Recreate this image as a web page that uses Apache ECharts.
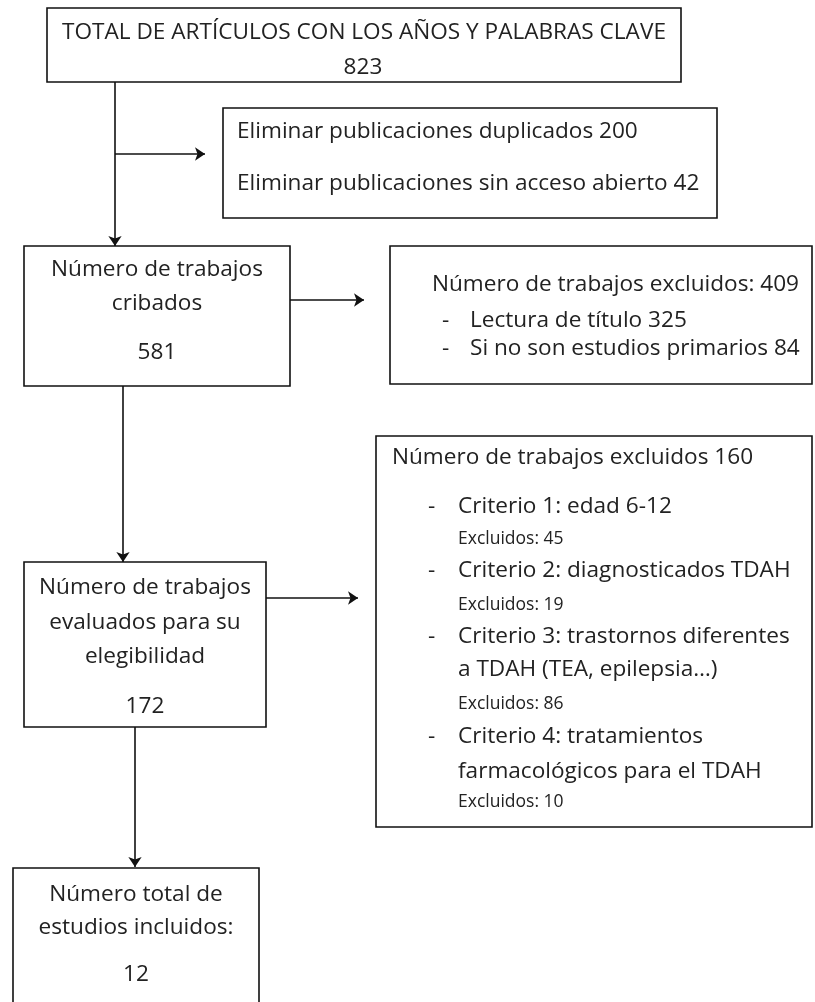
<!DOCTYPE html>
<html>
<head>
<meta charset="utf-8">
<script src="https://cdn.jsdelivr.net/npm/echarts@6/dist/echarts.min.js"></script>
<style>
  html, body { margin: 0; background: #fff; }
  #chart { width: 815px; height: 1002px; }
</style>
</head>
<body>
<div id="chart"></div>
<script>
// --- flow values ---
const totalArticles = 823
const removedLabels = ['Eliminar publicaciones duplicados', 'Eliminar publicaciones sin acceso abierto']
const removedCounts = [200, 42]
const screened = 581
const screenExcluded = 409
const screenReasons = ['Lectura de título', 'Si no son estudios primarios']
const screenReasonCounts = [325, 84]
const assessed = 172
const eligExcluded = 160
const criteria = [
  ['Criterio 1: edad 6-12'],
  ['Criterio 2: diagnosticados TDAH'],
  ['Criterio 3: trastornos diferentes', 'a TDAH (TEA, epilepsia…)'],
  ['Criterio 4: tratamientos', 'farmacológicos para el TDAH'],
]
const criteriaExcluded = [45, 19, 86, 10]
const included = 12

// --- layout (page units, y grows downward) ---
const W = 815
const H = 1002
const boxes = [
  [47, 8, 681, 82],      // total
  [223, 108, 717, 218],  // removed
  [24, 246, 290, 386],   // screened
  [390, 246, 812, 384],  // excluded at screening
  [24, 562, 266, 727],   // assessed
  [376, 436, 812, 827],  // excluded at eligibility
  [13, 868, 259, 1012],  // included
]
const arrows = [
  [115, 82, 115, 246],
  [115, 154, 205, 154],
  [123, 386, 123, 562],
  [290, 300, 364, 300],
  [135, 727, 135, 867],
  [266, 598, 358, 598],
]

const BIG = 22.6
const SMALL = 17.5

// text rows: [x, y, text, size, align]
const texts = []
const big = (x, y, t, a) => texts.push([x, y, t, BIG, a || 'center'])
const small = (x, y, t) => texts.push([x, y, t, SMALL, 'left'])

big(364, 33, 'TOTAL DE ARTÍCULOS CON LOS AÑOS Y PALABRAS CLAVE')
big(363, 68, String(totalArticles))
big(237, 132, `${removedLabels[0]} ${removedCounts[0]}`, 'left')
big(237, 184, `${removedLabels[1]} ${removedCounts[1]}`, 'left')

big(157, 270, 'Número de trabajos')
big(157, 304, 'cribados')
big(157, 353, String(screened))

big(432, 285, `Número de trabajos excluidos: ${screenExcluded}`, 'left')
screenReasons.forEach((r, i) => {
  const y = 321 + i * 28
  big(442, y, '-', 'left')
  big(470, y, `${r} ${screenReasonCounts[i]}`, 'left')
})

big(145, 588, 'Número de trabajos')
big(145, 623, 'evaluados para su')
big(145, 657, 'elegibilidad')
big(145, 707, String(assessed))

big(392, 458, `Número de trabajos excluidos ${eligExcluded}`, 'left')
const critRows = [[507], [571], [637, 670], [737, 772]]
const critExclRows = [539, 605, 704, 802]
criteria.forEach((lines, i) => {
  big(428, critRows[i][0], '-', 'left')
  lines.forEach((t, j) => big(458, critRows[i][j], t, 'left'))
  small(458, critExclRows[i], `Excluidos: ${criteriaExcluded[i]}`)
})

big(136, 895, 'Número total de')
big(136, 928, 'estudios incluidos:')
big(136, 975, String(included))

const chart = echarts.init(document.getElementById('chart'))

chart.setOption({
  animation: false,
  backgroundColor: '#fff',
  grid: { left: 0, right: 0, top: 0, bottom: 0 },
  xAxis: { type: 'value', min: 0, max: W, show: false },
  yAxis: { type: 'value', min: 0, max: H, inverse: true, show: false },
  series: [
    {
      type: 'custom',
      clip: false,
      data: boxes,
      renderItem: (params, api) => {
        const a = api.coord([api.value(0), api.value(1)])
        const b = api.coord([api.value(2), api.value(3)])
        return {
          type: 'rect',
          shape: { x: a[0], y: a[1], width: b[0] - a[0], height: b[1] - a[1] },
          style: { fill: '#fff', stroke: '#111', lineWidth: 1.6 },
        }
      },
    },
    {
      type: 'lines',
      coordinateSystem: 'cartesian2d',
      symbol: ['none', 'arrow'],
      symbolSize: 10,
      lineStyle: { color: '#111', width: 1.6, opacity: 1 },
      data: arrows.map((s) => ({ coords: [[s[0], s[1]], [s[2], s[3]]] })),
    },
    {
      type: 'custom',
      clip: false,
      data: texts.map((t) => [t[0], t[1]]),
      renderItem: (params, api) => {
        const t = texts[params.dataIndex]
        const p = api.coord([api.value(0), api.value(1)])
        return {
          type: 'text',
          x: p[0],
          y: p[1],
          style: {
            text: t[2],
            fill: '#222',
            font: `${t[3]}px "Open Sans", sans-serif`,
            align: t[4],
            verticalAlign: 'middle',
          },
        }
      },
    },
  ],
})
</script>
</body>
</html>
